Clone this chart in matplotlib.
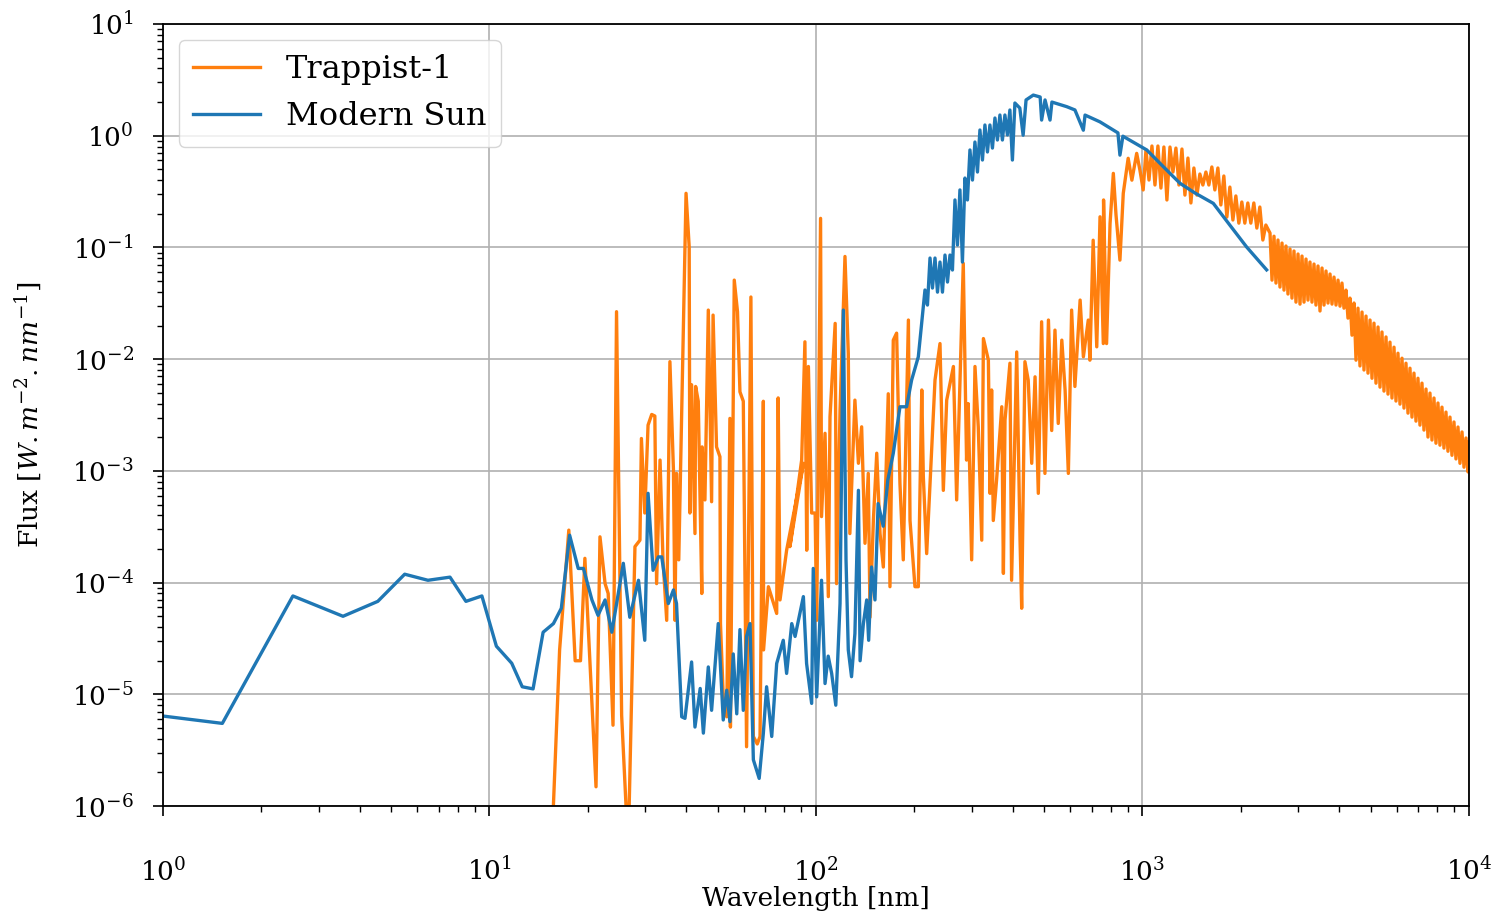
import matplotlib
matplotlib.use("Agg")
import matplotlib.pyplot as plt

plt.rcParams['font.family'] = ['DejaVu Serif']
plt.rcParams['mathtext.fontset'] = 'dejavuserif'

sun_wl = [1.0, 1.52, 2.5, 3.56, 4.55, 5.5, 6.48, 7.57, 8.47, 9.48, 10.5, 11.7, 12.6, 13.6, 14.6,
          15.7, 16.6, 17.6, 18.7, 19.4, 20.6, 21.5, 22.6, 23.7, 25.7, 26.9, 28.6, 29.9, 30.6, 31.7,
          32.9, 33.7, 35.3, 36.6, 37.4, 38.8, 39.7, 41.6, 42.6, 44.2, 45.2, 46.8, 47.9, 50.2, 52.0,
          53.3, 54.5, 55.8, 57.2, 58.5, 59.9, 61.3, 62.8, 64.3, 67.0, 69.0, 70.6, 73.2, 75.8, 79.4,
          81.3, 84.3, 86.3, 91.5, 93.6, 97.0, 98.1, 100.5, 104, 106.6, 109, 111.7, 115, 118.5, 121.3,
          123.6, 125.6, 128.5, 131.6, 134.9, 136.5, 139.7, 143, 145, 148, 151.6, 155, 160.7, 166,
          172.5, 180.8, 189.5, 196.3, 205.8,
          215.7, 219.5, 223.5, 227.4, 231.5, 235.6, 239.8, 244.0, 248.4, 252.8, 257.3, 261.8, 266.5,
          271.2, 276.0, 280.9, 285.9, 291.0, 296.2, 301.5, 306.8, 312.3, 317.8, 323.5, 329.2, 335.1,
          341.0, 347.1, 353.3, 359.5, 365.9, 372.4, 379.0, 385.8, 392.6, 399.6, 406.7,
          421, 431, 440, 463, 486, 491, 503,
          521, 528, 586, 621, 659, 667, 741, 841, 853, 871, 1031, 1172, 1303, 1448, 1648, 1853,
          2084, 2400]
sun_flux = [6.4e-6, 5.5e-6, 7.6e-5, 5.0e-5, 6.8e-5, 1.19e-4, 1.05e-4, 1.12e-4, 6.8e-5, 7.6e-5,
            2.7e-5, 1.9e-5, 1.17e-5, 1.12e-5, 3.6e-5, 4.3e-5, 5.9e-5, 2.66e-4, 1.34e-4, 1.34e-4,
            7.0e-5, 5.1e-5, 7.0e-5, 3.6e-5, 1.49e-4, 4.9e-5, 1.05e-4, 3.05e-5, 6.3e-4, 1.29e-4,
            1.7e-4, 1.7e-4, 6.5e-5, 8.6e-5, 6.5e-5, 6.3e-6, 6.1e-6, 1.95e-5, 5.1e-6, 1.13e-5,
            4.5e-6, 1.76e-5, 7.2e-6, 4.3e-5, 5.9e-6, 1.09e-5, 5.7e-6, 2.3e-5, 6.7e-6, 3.8e-5,
            7.2e-6, 3.3e-5, 4.3e-5, 2.6e-6, 1.77e-6, 4.5e-6, 1.17e-5, 4.2e-6, 1.89e-5, 3.05e-5,
            1.54e-5, 4.3e-5, 3.3e-5, 7.5e-5, 1.89e-5, 8.3e-6, 1.34e-4, 9.5e-6, 1.05e-4, 1.25e-5,
            2.2e-5, 1.54e-5, 8.0e-6, 6.5e-5, 0.0275, 1.6e-4, 2.5e-5, 1.44e-5, 3.5e-5, 6.7e-4,
            2.0e-5, 4.3e-5, 7.0e-5, 3.05e-5, 1.38e-4, 7.0e-5, 5.1e-4, 3.2e-4, 8.3e-4, 1.44e-3,
            3.75e-3, 3.75e-3, 6.5e-3, 0.0105,
            0.0416, 0.0305, 0.0804, 0.0433, 0.0804, 0.0398, 0.0740, 0.0398, 0.0855, 0.0490, 0.0855,
            0.0628, 0.266, 0.1051, 0.327, 0.0740, 0.418, 0.266, 0.745, 0.401, 0.878, 0.473, 1.125,
            0.606, 1.247, 0.715, 1.247, 0.775, 1.440, 0.915, 1.532, 0.915, 1.532, 1.015, 1.699,
            0.606, 1.961,
            1.77, 1.01, 2.09, 2.31, 2.22, 1.38, 2.09, 1.38, 2.0, 1.82, 1.70, 1.12, 1.53, 1.33, 1.06,
            0.67, 0.99, 0.745, 0.51, 0.375, 0.307, 0.248, 0.158, 0.101, 0.063]

trap_wl = [15.5, 16.4, 17.5, 18.3, 19.0, 19.6, 21.2, 21.8, 22.6, 23.1, 23.9, 24.5, 25.4, 26.6,
           27.9, 28.9, 29.2, 29.9, 30.6, 31.4, 32.1, 32.5, 33.3, 34.0, 34.9, 35.7, 36.6, 37.0, 37.4,
           38.0, 38.8, 40.0, 40.9, 41.1, 41.6, 42.6, 42.8, 43.6, 44.7, 44.8, 45.7, 46.8, 47.9, 48.4,
           49.6, 50.8, 51.0, 52.0, 53.3, 54.5, 54.7, 56.2, 57.5, 58.5, 59.9, 61.3, 63.2, 64.3, 66.1,
           67.4, 69.0, 69.1, 71.5, 75.8, 76.6, 77.6, 81.3, 91.5,
           83.2, 90.4, 92.5, 93.7, 94.8, 97.0, 99.4, 100.5, 103.3, 104.0, 106.6, 109.1, 110.4, 114.5,
           115.6, 118.5, 122.7, 125.6, 127.0, 131.6, 134.9, 138.0, 141.3, 144.6, 146.4, 149.9, 153.5,
           157.1, 160.8, 166.5, 168.5, 172.5, 176.6, 180.8, 185.1, 191.9, 194.1, 201.0, 205.8, 210.9,
           213.2, 218.3, 231.5, 239.8, 245.5, 251.4, 263.6, 269.7, 276.0, 282.6, 289.2, 292.6, 299.8,
           306.9, 314.1, 321.9, 325.7, 337.3, 341.2, 345.1, 349.2, 357.4, 370.7, 375.0, 379.3, 392.7,
           397.3, 411.9, 421.7, 426.6, 436.5, 446.7, 457.9, 468.8, 479.7, 491, 502.6, 515.2, 527.2,
           539.5, 552.1, 566.2, 579.4, 592.9, 606.7, 620.9, 644.2, 659.2, 682.3, 690.2, 706.3, 724.4,
           741.3, 758.6, 760, 776.3, 795.6, 814.2, 829.8, 853, 873.3, 889.5, 904, 928, 960, 982, 1005,
           1025, 1047, 1069, 1092, 1115, 1139, 1163, 1188, 1214, 1240, 1266, 1293, 1321, 1349, 1378,
           1407, 1437, 1468, 1499, 1531, 1564, 1597, 1631, 1666, 1702, 1738, 1775, 1813, 1852, 1892,
           1932, 1973, 2015, 2058, 2102, 2147, 2193, 2240, 2288, 2337, 2387,
           2458, 2493, 2528, 2564, 2600, 2637, 2675, 2713, 2751, 2790, 2830, 2870, 2911, 2952, 2995,
           3037, 3080, 3124, 3168, 3213, 3258, 3305, 3352, 3399, 3448, 3497, 3547, 3597, 3648, 3700,
           3753, 3806, 3860, 3915, 3971, 4027, 4083, 4141, 4201, 4260, 4321, 4382, 4445, 4508, 4571,
           4636, 4703, 4769, 4837, 4906, 4976, 5046, 5117, 5190, 5265, 5339, 5414, 5491, 5570, 5649,
           5728, 5810, 5893, 5976, 6060, 6147, 6235, 6323, 6412, 6504, 6596, 6690, 6784, 6881, 6978,
           7077, 7178, 7280, 7384, 7489, 7594, 7703, 7812, 7923, 8035, 8149, 8265, 8382, 8501, 8622,
           8745, 8869, 8995, 9123, 9253, 9384, 9520, 9654, 9790, 9929, 10000]
trap_flux = [4e-7, 2.5e-5, 2.95e-4, 2.0e-5, 2.0e-5, 1.65e-4, 1.49e-6, 2.57e-4, 9.8e-5, 8.0e-5,
             5.3e-6, 0.0266, 6.5e-6, 4e-7,
             2.1e-4, 2.4e-4, 1.95e-3, 4.2e-4, 2.57e-3, 3.2e-3, 3.1e-3, 9.8e-5, 1.25e-3, 1.6e-4,
             4.6e-5, 9.5e-3, 1.02e-3, 4.6e-5, 9.5e-4, 1.6e-4, 3.5e-3, 0.305, 0.101, 4.2e-4, 5.9e-3,
             2.75e-4, 5.7e-3, 4.2e-3, 8.0e-5, 1.64e-3, 5.5e-4, 0.0275, 5.3e-4, 0.0248, 1.64e-3,
             1.34e-3, 4.3e-5, 9.5e-6, 6.3e-6, 2.95e-3, 5.1e-6, 0.051, 0.0266, 5.1e-3, 4.2e-3, 3.4e-6,
             0.036, 4.2e-6, 3.6e-6, 4.2e-6, 4.2e-3, 2.5e-5, 9.2e-5, 5.3e-5, 4.5e-3, 7.0e-5, 1.95e-4,
             1.17e-3,
             2.1e-4, 1.25e-3, 0.0143, 1.95e-4, 8.6e-3, 4.2e-4, 4.2e-4, 4.6e-5, 0.182, 3.9e-4,
             2.17e-3, 7.5e-5, 3.05e-3, 0.0209, 9.8e-5, 3.5e-3, 0.083, 0.0113, 2.75e-4, 4.3e-3,
             1.17e-3, 2.48e-3, 2.25e-4, 9.5e-4, 4.9e-5, 3.6e-4, 1.44e-3, 2.75e-4, 1.38e-4, 4.9e-3,
             9.2e-5, 0.0148, 0.0171, 7.7e-4, 1.6e-4, 0.0224, 3.6e-4, 9.2e-5, 9.2e-5, 5.3e-3, 8.9e-4,
             1.82e-4, 6.5e-3, 0.0138, 6.7e-4, 4.3e-3, 8.6e-3, 5.5e-4, 6.1e-3, 0.072, 1.25e-3, 4.0e-3,
             1.6e-4, 8.6e-3, 2.48e-3, 2.4e-4, 0.0153, 9.8e-3, 6.3e-4, 5.3e-3, 3.6e-4, 8.3e-4,
             3.75e-3, 1.21e-4, 2.85e-3, 9.2e-3, 1.05e-4, 0.0116, 2.4e-4, 5.9e-5, 9.5e-3, 6.5e-3,
             1.17e-3, 6.95e-3, 6.3e-4, 0.0216, 9.5e-4, 0.0224, 2.3e-3, 0.0182, 2.66e-3, 0.0148,
             5.3e-3, 9.5e-4, 0.0275, 5.7e-3, 0.0338, 0.0105, 0.0224, 9.8e-3, 0.116, 0.0129, 0.188,
             0.0138, 0.266, 0.0138, 0.164, 0.46, 0.195, 0.077, 0.305, 0.445, 0.628, 0.40, 0.695,
             0.493, 0.327,
             0.745, 0.401, 0.809, 0.362, 0.809, 0.340, 0.792, 0.266, 0.792, 0.473, 0.775, 0.362,
             0.760, 0.294, 0.631, 0.250, 0.514, 0.294, 0.454, 0.362, 0.473, 0.362, 0.525, 0.327,
             0.514, 0.240, 0.436, 0.187, 0.347, 0.176, 0.289, 0.165, 0.255, 0.165, 0.250, 0.165,
             0.250, 0.149, 0.230, 0.1165, 0.1587,
             0.1345, 0.051, 0.126, 0.048, 0.1165, 0.0442, 0.1094, 0.0415, 0.103, 0.0383, 0.0968,
             0.0352, 0.0929, 0.0324, 0.0873, 0.0311, 0.0837, 0.0324, 0.0787, 0.0338, 0.074, 0.0324,
             0.071, 0.0305, 0.0682, 0.027, 0.0654, 0.0305, 0.0615, 0.0318, 0.0578, 0.0311, 0.0543,
             0.0305, 0.051, 0.0298, 0.048, 0.0286, 0.0415, 0.0233, 0.0352, 0.0164, 0.0318, 9.8e-3,
             0.0286, 8.7e-3, 0.0264, 8.0e-3, 0.0243, 7.5e-3, 0.0224, 6.75e-3, 0.021, 6.1e-3, 0.0194,
             5.62e-3, 0.0175, 5.18e-3, 0.0158, 4.87e-3, 0.0142, 4.49e-3, 0.0128, 4.22e-3, 0.0113,
             3.96e-3, 0.0102, 3.65e-3, 9.2e-3, 3.29e-3, 8.3e-3, 3.03e-3, 7.5e-3, 2.79e-3, 6.75e-3,
             2.57e-3, 6.1e-3, 2.32e-3, 5.4e-3, 2.01e-3, 4.97e-3, 1.89e-3, 4.49e-3, 1.77e-3, 4.05e-3,
             1.70e-3, 3.72e-3, 1.60e-3, 3.36e-3, 1.50e-3, 3.03e-3, 1.38e-3, 2.74e-3, 1.28e-3,
             2.47e-3, 1.17e-3, 2.23e-3, 1.08e-3, 1.97e-3, 9.8e-4, 1.8e-3]

fig = plt.figure(figsize=(14.95, 9.15), dpi=100)
ax = fig.add_axes([0.109, 0.119, 0.8736, 0.8548])
ax.plot(trap_wl, trap_flux, color='#ff7f0e', lw=2.4, label='Trappist-1')
ax.plot(sun_wl, sun_flux, color='#1f77b4', lw=2.4, label='Modern Sun')
ax.set_xscale('log')
ax.set_yscale('log')
ax.set_xlim(1, 1e4)
ax.set_ylim(1e-6, 1e1)
ax.grid(True, which='major', color='#b0b0b0', lw=1.2)
ax.tick_params(which='major', labelsize=19, length=7, width=1.2)
ax.tick_params(axis='y', which='major', pad=14)
ax.tick_params(axis='x', which='major', pad=30)
ax.tick_params(which='minor', length=4, width=1.0)
for s in ax.spines.values():
    s.set_linewidth(1.3)
ax.set_xlabel('Wavelength [nm]', fontsize=19, labelpad=0)
ax.set_ylabel(r'Flux [$W.m^{-2}.nm^{-1}$]', fontsize=19, labelpad=20)
ax.legend(loc='upper left', fontsize=23, handlelength=2.1, borderpad=0.45)
fig.savefig('out.png', dpi=100)
